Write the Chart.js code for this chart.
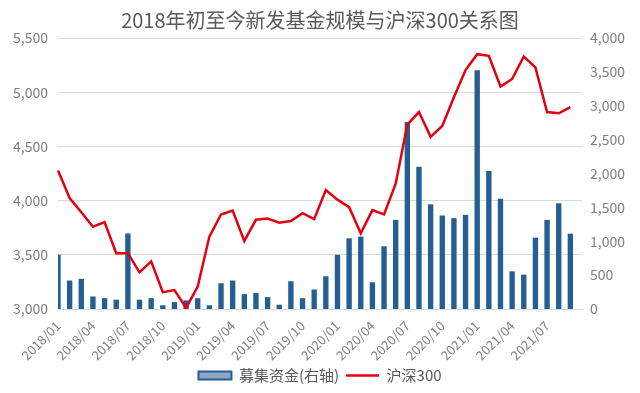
<!DOCTYPE html>
<html>
<head>
<meta charset="utf-8">
<script src="https://cdn.jsdelivr.net/npm/chart.js@4.4.1/dist/chart.umd.min.js"></script>
<style>
  html, body { margin: 0; padding: 0; background: #fff; }
  #wrap { width: 640px; height: 393px; }
</style>
</head>
<body>
<div id="wrap"><canvas id="myChart"></canvas></div>
<script>
// months 2018/01 .. 2021/10 (last month has no data yet)
var months = [
  "2018/01", "2018/02", "2018/03", "2018/04", "2018/05", "2018/06", "2018/07", "2018/08", "2018/09", "2018/10", "2018/11", "2018/12",
  "2019/01", "2019/02", "2019/03", "2019/04", "2019/05", "2019/06", "2019/07", "2019/08", "2019/09", "2019/10", "2019/11", "2019/12",
  "2020/01", "2020/02", "2020/03", "2020/04", "2020/05", "2020/06", "2020/07", "2020/08", "2020/09", "2020/10", "2020/11", "2020/12",
  "2021/01", "2021/02", "2021/03", "2021/04", "2021/05", "2021/06", "2021/07", "2021/08", "2021/09", "2021/10"
];

// 募集资金 (right axis)
var fundValues = [
  800, 420, 445, 185, 160, 137, 1115, 137, 160, 55, 102, 127,
  160, 55, 380, 420, 220, 235, 175, 63, 410, 160, 288, 483,
  800, 1043, 1068, 395, 926, 1316, 2760, 2100, 1545, 1380, 1341, 1389,
  3525, 2038, 1628, 556, 507, 1053, 1316, 1560, 1112, null
];

// 沪深300 (left axis)
var csiValues = [
  4277, 4024, 3893, 3759, 3802, 3515, 3515, 3338, 3439, 3155, 3174, 3010,
  3207, 3668, 3872, 3909, 3628, 3823, 3835, 3796, 3811, 3884, 3829, 4098,
  4009, 3939, 3698, 3912, 3872, 4156, 4701, 4817, 4588, 4689, 4954, 5204,
  5351, 5335, 5052, 5122, 5329, 5229, 4817, 4805, 4863, null
];

var leftTicks = [3000, 3500, 4000, 4500, 5000, 5500];
var rightTicks = [0, 500, 1000, 1500, 2000, 2500, 3000, 3500, 4000];

var barColor = "#255E91";
var lineColor = "#E3000F";
var textFont = '"Noto Sans CJK SC", "Noto Sans", sans-serif';

new Chart("myChart", {
  type: "bar",
  data: {
    labels: months,
    datasets: [{
      label: "募集资金(右轴)",
      data: fundValues,
      backgroundColor: barColor,
      yAxisID: "y1",
      barPercentage: 0.46,
      categoryPercentage: 1,
      order: 2
    },
    {
      type: "line",
      label: "沪深300",
      data: csiValues,
      borderColor: lineColor,
      backgroundColor: lineColor,
      borderWidth: 2.5,
      pointRadius: 0,
      tension: 0,
      yAxisID: "y",
      order: 1
    }]
  },
  options: {
    responsive: true,
    maintainAspectRatio: false,
    animation: false,
    layout: { padding: { left: 0, right: 0, top: 0, bottom: 0 } },
    plugins: {
      title: {
        display: true,
        text: "2018年初至今新发基金规模与沪深300关系图",
        color: "#595959",
        font: { family: textFont, size: 20, weight: "normal" },
        padding: { top: 8, bottom: 6 }
      },
      legend: {
        position: "bottom",
        labels: {
          color: "#595959",
          font: { family: textFont, size: 15 },
          usePointStyle: true,
          pointStyleWidth: 33,
          boxHeight: 8,
          padding: 7,
          generateLabels: function (chart) {
            return [
              { text: "募集资金(右轴)", fillStyle: "#8EA5C8", strokeStyle: barColor, lineWidth: 2, pointStyle: "rect", datasetIndex: 0, fontColor: "#595959" },
              { text: "沪深300", fillStyle: lineColor, strokeStyle: lineColor, lineWidth: 2.5, pointStyle: "line", datasetIndex: 1, fontColor: "#595959" }
            ];
          }
        }
      },
      tooltip: { enabled: false }
    },
    scales: {
      x: {
        offset: false,
        afterFit: function (scale) { scale.height = 52; },
        grid: { display: false, drawTicks: false },
        border: { display: true, color: "#D9D9D9" },
        ticks: {
          autoSkip: false,
          maxRotation: 45,
          minRotation: 45,
          padding: 9,
          color: "#7F7F7F",
          font: { family: textFont, size: 13 },
          callback: function (value, index) {
            if (index % 3 === 0 && csiValues[index] !== null) return months[index];
            return "";
          }
        }
      },
      y: {
        position: "left",
        min: leftTicks[0],
        max: leftTicks[leftTicks.length - 1],
        afterBuildTicks: function (scale) {
          scale.ticks = leftTicks.map(function (v) { return { value: v }; });
        },
        afterFit: function (scale) { scale.width = 58; },
        grid: { color: "#D9D9D9", drawTicks: false },
        border: { display: false },
        ticks: {
          padding: 10,
          color: "#7F7F7F",
          font: { family: textFont, size: 14 },
          callback: function (value) { return value.toLocaleString("en-US"); }
        }
      },
      y1: {
        position: "right",
        min: rightTicks[0],
        max: rightTicks[rightTicks.length - 1],
        afterBuildTicks: function (scale) {
          scale.ticks = rightTicks.map(function (v) { return { value: v }; });
        },
        afterFit: function (scale) { scale.width = 58; },
        grid: { display: false, drawTicks: false },
        border: { display: false },
        ticks: {
          padding: 8,
          color: "#7F7F7F",
          font: { family: textFont, size: 14 },
          callback: function (value) { return value.toLocaleString("en-US"); }
        }
      }
    }
  }
});
</script>
</body>
</html>
